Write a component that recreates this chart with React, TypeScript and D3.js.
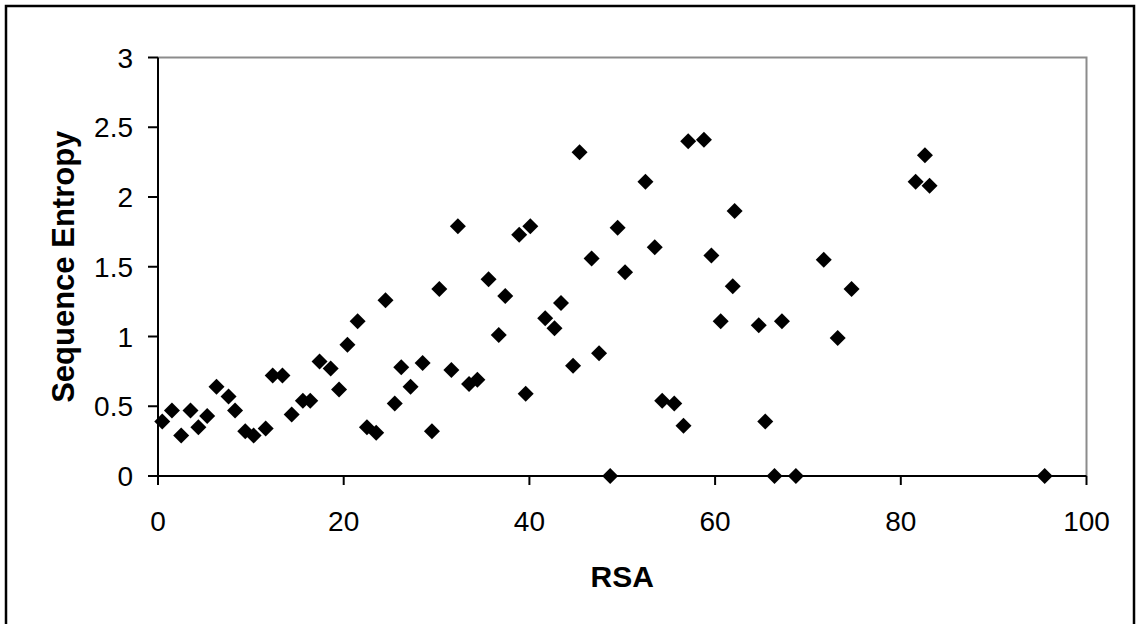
import React from 'react';
import { scaleLinear } from 'd3';

const chartWidth = 1136;
const chartHeight = 624;

// RSA (x) vs sequence entropy (y)
const rsa = [
    0.46, 1.5, 2.5, 3.5, 4.35, 5.3, 6.3, 7.6, 8.3, 9.4, 10.3, 11.6, 12.35, 13.4, 14.4,
    15.6, 16.4, 17.4, 18.6, 19.5, 20.4, 21.5, 22.5, 23.5, 24.5, 25.5, 26.2, 27.2, 28.5,
    29.5, 30.3, 31.6, 32.3, 33.5, 34.4, 35.6, 36.7, 37.4, 38.9, 39.6, 40.1, 41.7, 42.7,
    43.4, 44.7, 45.4, 46.7, 47.5, 48.7, 49.5, 50.3, 52.5, 53.5, 54.3, 55.6, 56.6, 57.1,
    58.8, 59.6, 60.6, 61.9, 62.1, 64.7, 65.4, 66.4, 67.2, 68.7, 71.7, 73.2, 74.7, 81.6,
    82.6, 83.1, 95.5
];
const entropy = [
    0.39, 0.47, 0.29, 0.47, 0.35, 0.43, 0.64, 0.57, 0.47, 0.32, 0.29, 0.34, 0.72, 0.72, 0.44,
    0.54, 0.54, 0.82, 0.77, 0.62, 0.94, 1.11, 0.35, 0.31, 1.26, 0.52, 0.78, 0.64, 0.81,
    0.32, 1.34, 0.76, 1.79, 0.66, 0.69, 1.41, 1.01, 1.29, 1.73, 0.59, 1.79, 1.13, 1.06,
    1.24, 0.79, 2.32, 1.56, 0.88, 0, 1.78, 1.46, 2.11, 1.64, 0.54, 0.52, 0.36, 2.40,
    2.41, 1.58, 1.11, 1.36, 1.90, 1.08, 0.39, 0, 1.11, 0, 1.55, 0.99, 1.34, 2.11,
    2.30, 2.08, 0
];
const xTicks = [0, 20, 40, 60, 80, 100];
const yTicks = [0, 0.5, 1, 1.5, 2, 2.5, 3];

const left = 158, right = 1086.5, top = 57.5, bottom = 476;

const App = () => {
    const x = scaleLinear().domain([0, 100]).range([left, right]);
    const y = scaleLinear().domain([0, 3]).range([bottom, top]);
    const font = '"Liberation Sans", Arial, sans-serif';
    const d = 8;

    return (
        <svg width={chartWidth} height={chartHeight}
            style={{ position: 'absolute', left: 0, top: 0, background: 'white' }}
            fontFamily={font}>
            <rect x={6} y={6} width={1128} height={700} fill="white" stroke="black" strokeWidth={2.5} />

            {/* plot frame: grey top / right, black axes */}
            <path d={`M${left},${top}H${right}V${bottom}`} fill="none" stroke="#8c8c8c" strokeWidth={2} />
            <line x1={left} x2={left} y1={top} y2={bottom + 9} stroke="black" strokeWidth={2} />
            <line x1={left - 10} x2={right} y1={bottom} y2={bottom} stroke="black" strokeWidth={2} />

            {yTicks.map(t => (
                <g key={'y' + t}>
                    <line x1={left - 10} x2={left} y1={y(t)} y2={y(t)} stroke="black" strokeWidth={2} />
                    <text x={133} y={y(t)} dy="0.36em" textAnchor="end" fontSize={28}>{t}</text>
                </g>
            ))}
            {xTicks.map(t => (
                <g key={'x' + t}>
                    <line x1={x(t)} x2={x(t)} y1={bottom} y2={bottom + 9} stroke="black" strokeWidth={2} />
                    <text x={x(t)} y={531} textAnchor="middle" fontSize={28}>{t}</text>
                </g>
            ))}

            {rsa.map((v, i) => {
                const cx = x(v), cy = y(entropy[i]);
                return (
                    <path key={i}
                        d={`M${cx},${cy - d}L${cx + d},${cy}L${cx},${cy + d}L${cx - d},${cy}Z`}
                        fill="black" />
                );
            })}

            <text x={(left + right) / 2} y={587} textAnchor="middle" fontSize={30} fontWeight="bold">RSA</text>
            <text transform={`translate(74, ${(top + bottom) / 2}) rotate(-90)`} textAnchor="middle"
                fontSize={31} fontWeight="bold">Sequence Entropy</text>
        </svg>
    );
}

export default App;
